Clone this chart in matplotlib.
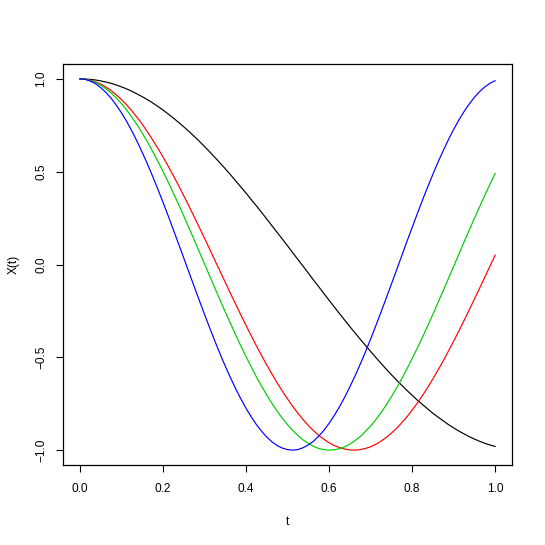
import matplotlib
matplotlib.use("Agg")
import matplotlib.pyplot as plt

t = [round(i * 0.0125, 4) for i in range(81)]
x_black = [1.000, 0.999, 0.997, 0.994, 0.989, 0.983, 0.976, 0.967, 0.957, 0.946, 0.933, 0.919, 0.904, 0.888, 0.871, 0.852, 0.832, 0.811, 0.789, 0.766, 0.742, 0.717, 0.691, 0.664, 0.636, 0.607, 0.577, 0.547, 0.516, 0.484, 0.451, 0.418, 0.385, 0.350, 0.316, 0.281, 0.245, 0.209, 0.173, 0.137, 0.101, 0.064, 0.027, -0.009, -0.046, -0.083, -0.119, -0.156, -0.192, -0.228, -0.264, -0.299, -0.334, -0.368, -0.402, -0.435, -0.468, -0.500, -0.532, -0.563, -0.593, -0.622, -0.650, -0.678, -0.704, -0.730, -0.754, -0.778, -0.801, -0.822, -0.842, -0.862, -0.880, -0.897, -0.912, -0.927, -0.940, -0.952, -0.963, -0.972, -0.980]
x_red = [1.000, 0.998, 0.993, 0.984, 0.972, 0.956, 0.937, 0.914, 0.889, 0.860, 0.828, 0.793, 0.756, 0.715, 0.672, 0.627, 0.580, 0.530, 0.479, 0.426, 0.371, 0.315, 0.258, 0.200, 0.142, 0.083, 0.023, -0.036, -0.096, -0.155, -0.213, -0.271, -0.328, -0.383, -0.438, -0.490, -0.541, -0.590, -0.637, -0.682, -0.724, -0.764, -0.801, -0.835, -0.867, -0.895, -0.920, -0.941, -0.960, -0.975, -0.986, -0.994, -0.999, -1.000, -0.997, -0.991, -0.982, -0.969, -0.952, -0.932, -0.909, -0.883, -0.853, -0.821, -0.785, -0.747, -0.706, -0.663, -0.617, -0.569, -0.519, -0.467, -0.414, -0.359, -0.303, -0.245, -0.187, -0.129, -0.069, -0.010, 0.050]
x_green = [1.000, 0.998, 0.991, 0.981, 0.966, 0.947, 0.924, 0.897, 0.867, 0.832, 0.794, 0.753, 0.708, 0.661, 0.610, 0.557, 0.502, 0.445, 0.385, 0.324, 0.262, 0.198, 0.134, 0.069, 0.004, -0.062, -0.127, -0.191, -0.255, -0.317, -0.379, -0.438, -0.496, -0.551, -0.605, -0.655, -0.703, -0.748, -0.790, -0.828, -0.863, -0.894, -0.921, -0.945, -0.964, -0.979, -0.991, -0.997, -1.000, -0.998, -0.992, -0.982, -0.968, -0.949, -0.927, -0.900, -0.870, -0.836, -0.799, -0.758, -0.713, -0.666, -0.616, -0.563, -0.508, -0.451, -0.392, -0.331, -0.269, -0.205, -0.141, -0.076, -0.011, 0.054, 0.120, 0.184, 0.248, 0.310, 0.372, 0.432, 0.490]
x_blue = [1.000, 0.997, 0.988, 0.974, 0.953, 0.927, 0.896, 0.859, 0.817, 0.771, 0.720, 0.664, 0.605, 0.542, 0.476, 0.407, 0.336, 0.263, 0.188, 0.112, 0.036, -0.041, -0.117, -0.193, -0.268, -0.341, -0.412, -0.481, -0.547, -0.609, -0.668, -0.723, -0.774, -0.820, -0.862, -0.898, -0.929, -0.955, -0.975, -0.989, -0.997, -1.000, -0.997, -0.987, -0.972, -0.952, -0.925, -0.894, -0.856, -0.814, -0.767, -0.716, -0.660, -0.601, -0.538, -0.472, -0.403, -0.331, -0.258, -0.183, -0.107, -0.031, 0.046, 0.123, 0.198, 0.273, 0.346, 0.417, 0.485, 0.551, 0.613, 0.672, 0.727, 0.777, 0.823, 0.864, 0.900, 0.931, 0.956, 0.976, 0.990]

xticks = [0.0, 0.2, 0.4, 0.6, 0.8, 1.0]
yticks = [-1.0, -0.5, 0.0, 0.5, 1.0]

plt.rcParams['font.family'] = ['Liberation Sans', 'DejaVu Sans']
fig = plt.figure(figsize=(5.45, 5.45), dpi=100)
ax = fig.add_axes([63.3/545, 1-465/545, (511.7-63.3)/545, (465-64)/545])

lw = 0.85
ax.plot(t, x_black, color='black', lw=lw)
ax.plot(t, x_red, color='#FF0000', lw=lw)
ax.plot(t, x_green, color='#00CD00', lw=lw)
ax.plot(t, x_blue, color='#0000FF', lw=lw)

ax.set_xlim(-0.04, 1.04)
ax.set_ylim(-1.08, 1.08)
ax.set_xticks(xticks)
ax.set_xticklabels([f"{v:.1f}" for v in xticks])
ax.set_yticks(yticks)
ax.set_yticklabels([f"{v:.1f}".replace('-', '\u2212') for v in yticks], rotation=90, va='center')
ax.tick_params(direction='out', length=5, width=0.8, labelsize=8.6, color='black')
ax.tick_params(axis='x', pad=8)
ax.tick_params(axis='y', pad=6.5)
for s in ax.spines.values():
    s.set_linewidth(0.9)
ax.set_xlabel('t', fontsize=8.6, labelpad=15)
ax.set_ylabel('X(t)', fontsize=8.6, labelpad=11)

fig.savefig('out.png', dpi=100)
